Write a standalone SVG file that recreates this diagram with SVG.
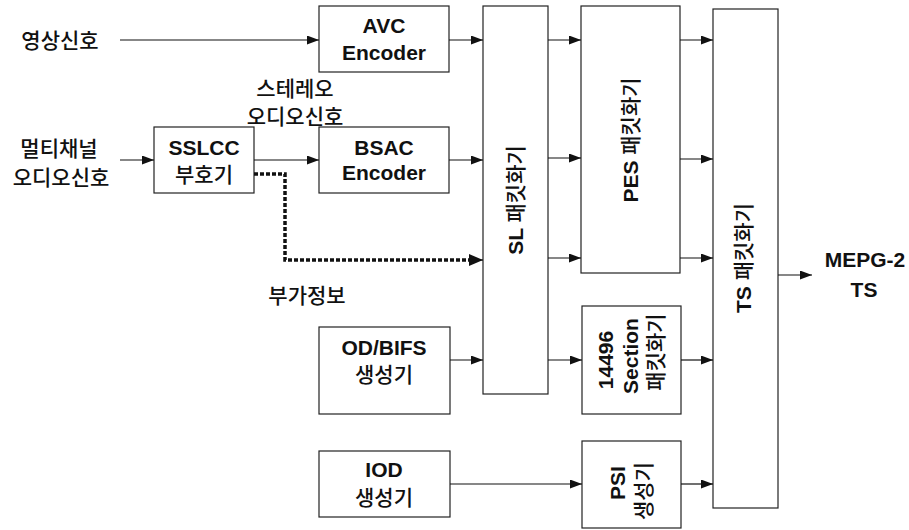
<svg xmlns="http://www.w3.org/2000/svg" width="909" height="530" viewBox="0 0 909 530">
<style>
  .box { fill: #ffffff; stroke: #222222; stroke-width: 1.2; }
  .ln { fill: none; stroke: #111111; stroke-width: 1.2; }
  .dash { fill: none; stroke: #111111; stroke-width: 3.5; stroke-dasharray: 4 2; }
  text { font-family: "Liberation Sans", "Noto Sans CJK KR", sans-serif; fill: #111111; }
  .ko { font-size: 21px; font-weight: 500; }
  .b { font-size: 21px; font-weight: bold; }
</style>
<defs>
  <marker id="ah" markerUnits="userSpaceOnUse" markerWidth="13" markerHeight="10" refX="12" refY="4.5" orient="auto">
    <path d="M0,0 L12,4.5 L0,9 z" fill="#111111"/>
  </marker>
  <marker id="ahb" markerUnits="userSpaceOnUse" markerWidth="16" markerHeight="14" refX="14" refY="6" orient="auto">
    <path d="M0,0 L14,6 L0,12 z" fill="#111111"/>
  </marker>
</defs>
<rect width="909" height="530" fill="#ffffff"/>

<g id="labels">
  <text class="ko" x="60" y="47.5" text-anchor="middle">영상신호</text>
  <text class="ko" x="59" y="155.5" text-anchor="middle">멀티채널</text>
  <text class="ko" x="61" y="184.5" text-anchor="middle">오디오신호</text>
  <text class="ko" x="295" y="95.5" text-anchor="middle">스테레오</text>
  <text class="ko" x="295" y="123.5" text-anchor="middle">오디오신호</text>
  <text class="ko" x="307" y="302.5" text-anchor="middle">부가정보</text>
  <text class="b" x="865" y="267" text-anchor="middle">MEPG-2</text>
  <text class="b" x="864" y="297" text-anchor="middle">TS</text>
</g>

<g id="avc">
  <rect class="box" x="319" y="6" width="130" height="66"/>
  <text class="b" x="384" y="32.5" text-anchor="middle">AVC</text>
  <text class="b" x="384" y="59.5" text-anchor="middle">Encoder</text>
</g>
<g id="bsac">
  <rect class="box" x="319" y="127" width="130" height="66"/>
  <text class="b" x="384" y="155" text-anchor="middle">BSAC</text>
  <text class="b" x="384" y="180" text-anchor="middle">Encoder</text>
</g>
<g id="sslcc">
  <rect class="box" x="154" y="127" width="100" height="66"/>
  <text class="b" x="204" y="155" text-anchor="middle">SSLCC</text>
  <text class="ko" x="204" y="181.5" text-anchor="middle">부호기</text>
</g>
<g id="odbifs">
  <rect class="box" x="319" y="327" width="131" height="87"/>
  <text class="b" x="384" y="355" text-anchor="middle">OD/BIFS</text>
  <text class="ko" x="384" y="382" text-anchor="middle">생성기</text>
</g>
<g id="iod">
  <rect class="box" x="319" y="451" width="131" height="66"/>
  <text class="b" x="384" y="477" text-anchor="middle">IOD</text>
  <text class="ko" x="384" y="505" text-anchor="middle">생성기</text>
</g>
<g id="sl">
  <rect class="box" x="483" y="6" width="65" height="388"/>
  <text transform="translate(515,200) rotate(-90)" x="0" y="7.5" text-anchor="middle"><tspan class="b">SL </tspan><tspan class="ko">패킷화기</tspan></text>
</g>
<g id="pes">
  <rect class="box" x="581" y="6" width="99" height="267"/>
  <text transform="translate(630,140) rotate(-90)" x="0" y="7.5" text-anchor="middle"><tspan class="b">PES </tspan><tspan class="ko">패킷화기</tspan></text>
</g>
<g id="section">
  <rect class="box" x="582" y="306" width="99" height="108"/>
  <text class="b" transform="translate(605,360) rotate(-90)" x="0" y="7.5" text-anchor="middle">14496</text>
  <text class="b" transform="translate(630,356) rotate(-90)" x="0" y="7.5" text-anchor="middle">Section</text>
  <text class="ko" transform="translate(655,352) rotate(-90)" x="0" y="7.5" text-anchor="middle">패킷화기</text>
</g>
<g id="psi">
  <rect class="box" x="582" y="441" width="99" height="87"/>
  <text class="b" transform="translate(617,483) rotate(-90)" x="0" y="7.5" text-anchor="middle">PSI</text>
  <text class="ko" transform="translate(643,491) rotate(-90)" x="0" y="7.5" text-anchor="middle">생성기</text>
</g>
<g id="ts">
  <rect class="box" x="713" y="9" width="65" height="499"/>
  <text transform="translate(743,258) rotate(-90)" x="0" y="7.5" text-anchor="middle"><tspan class="b">TS </tspan><tspan class="ko">패킷화기</tspan></text>
</g>

<g id="connectors">
  <line class="ln" x1="120" y1="40" x2="319" y2="40" marker-end="url(#ah)"/>
  <line class="ln" x1="449" y1="40" x2="483" y2="40" marker-end="url(#ah)"/>
  <line class="ln" x1="120" y1="160" x2="154" y2="160" marker-end="url(#ah)"/>
  <line class="ln" x1="254" y1="160" x2="319" y2="160" marker-end="url(#ah)"/>
  <line class="ln" x1="449" y1="160" x2="483" y2="160" marker-end="url(#ah)"/>
  <path class="dash" d="M254,174 H285 V260 H470"/>
  <line class="ln" x1="468" y1="260" x2="483" y2="260" marker-end="url(#ahb)"/>
  <line class="ln" x1="450" y1="360" x2="483" y2="360" marker-end="url(#ah)"/>
  <line class="ln" x1="548" y1="40" x2="581" y2="40" marker-end="url(#ah)"/>
  <line class="ln" x1="548" y1="158" x2="581" y2="158" marker-end="url(#ah)"/>
  <line class="ln" x1="548" y1="258" x2="581" y2="258" marker-end="url(#ah)"/>
  <line class="ln" x1="548" y1="360" x2="582" y2="360" marker-end="url(#ah)"/>
  <line class="ln" x1="450" y1="484" x2="582" y2="484" marker-end="url(#ah)"/>
  <line class="ln" x1="680" y1="40" x2="713" y2="40" marker-end="url(#ah)"/>
  <line class="ln" x1="680" y1="159" x2="713" y2="159" marker-end="url(#ah)"/>
  <line class="ln" x1="680" y1="258" x2="713" y2="258" marker-end="url(#ah)"/>
  <line class="ln" x1="681" y1="360" x2="713" y2="360" marker-end="url(#ah)"/>
  <line class="ln" x1="681" y1="484" x2="713" y2="484" marker-end="url(#ah)"/>
  <line class="ln" x1="778" y1="275" x2="812" y2="275" marker-end="url(#ah)"/>
</g>
</svg>
